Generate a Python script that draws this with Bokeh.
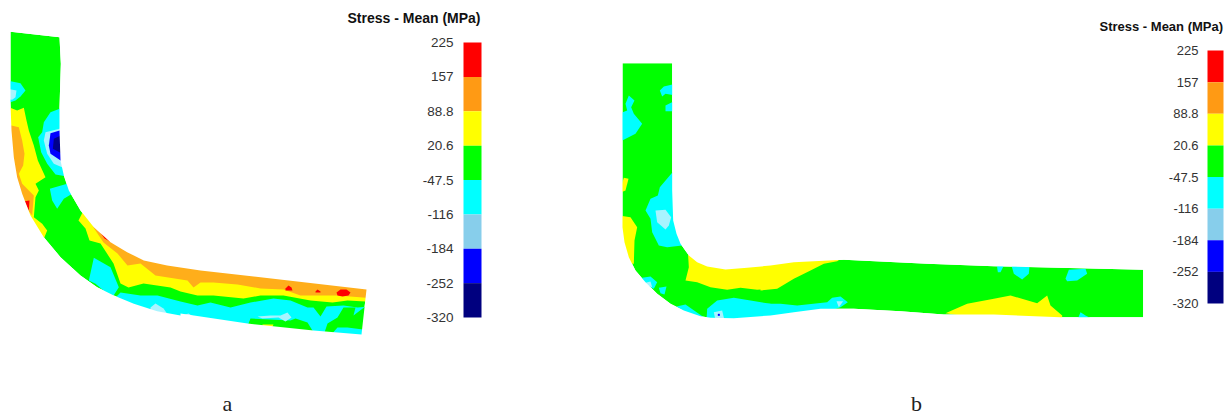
from bokeh.plotting import figure
from bokeh.models import Range1d
from bokeh.embed import file_html
from bokeh.resources import INLINE
from bokeh.core.properties import value

# ---------- legend data ----------
level_labels = ["225", "157", "88.8", "20.6", "-47.5", "-116", "-184", "-252", "-320"]
legend_colors = ["#ff0000", "#ff9a14", "#ffff00", "#00ff00", "#00ffff", "#87ceeb", "#0000ff", "#00007f"]
title_text = "Stress - Mean (MPa)"
panel_labels = ["a", "b"]

RED, ORANGE, YELLOW, GREEN = "#ff0000", "#ffae1a", "#ffff00", "#00ff00"
CYAN, PALE, BLUE, NAVY = "#00ffff", "#a8f4ff", "#0000ff", "#00008b"

# ---------- contour outlines as (x, y) ----------
def sc(pts, ox, oy):
    return [(ox + x / 3, oy + y / 3) for x, y in pts]

outline_a = sc([(30,34),(177,50),(181,130),(177,262),(177,330),(180,420),(190,465),(205,510),(240,570),(280,620),
                (330,665),(380,695),(430,720),(500,735),(600,750)], 0, 20) + [(366,289),(361,334),(313,330),(247,323),(180,313)] + \
            sc([(540,885),(470,872),(400,850),(340,825),(290,800),(240,765),(180,710),(130,650),(90,585),(65,520),
                (50,470),(40,410),(33,330),(30,250)], 0, 20)
outline_b = sc([(66,38),(215,38),(215,420),(218,510),(228,550),(240,580),(265,615),(290,635),(320,648),(375,657),
                (440,652),(510,645)], 600, 50) + \
            sc([(100,65),(250,58),(500,70),(700,77),(1148,88),(1148,230),(900,230),(700,222),(550,222),(420,212),
                (280,205),(180,205),(100,215)], 760, 240) + \
            sc([(510,795),(400,803),(330,802),(300,797),(250,780),(210,760),(170,730),(135,695),(105,660),(85,620),
                (72,575),(66,530)], 600, 50)

# panel a, left part (zoom 0,20)
a_left = [
 (CYAN, [(20,180),(60,188),(75,210),(60,228),(45,240),(20,248)]),
 (PALE, [(20,205),(48,210),(45,230),(35,238),(20,236)]),
 (YELLOW, [(20,258),(50,270),(70,262),(78,300),(85,330),(100,375),(112,420),(135,470),(105,490),(115,510),
           (105,530),(100,590),(125,610),(140,630),(130,655),(100,620),(40,530),(20,400)]),
 (ORANGE, [(20,312),(55,320),(65,360),(72,400),(68,435),(55,460),(65,490),(100,525),(95,585),(60,540),(20,450)]),
 (RED, [(72,542),(87,540),(85,570)]),
 (CYAN, [(195,258),(150,275),(130,305),(125,335),(113,350),(122,395),(140,430),(165,462),(195,467),(195,262)]),
 (PALE, [(195,320),(135,335),(130,360),(140,400),(160,430),(195,445)]),
 (BLUE, [(195,325),(150,338),(145,375),(150,400),(195,430)]),
 (NAVY, [(195,338),(160,355),(157,385),(195,405)]),
 (CYAN, [(148,505),(200,490),(215,520),(190,535),(170,565),(155,540)]),
 (CYAN, [(265,780),(280,712),(330,740),(355,800),(335,832),(285,790)]),
]
# panel a, long bands
band_a = [
 (YELLOW, [(88,205),(110,225),(140,245),(200,262),(375,285),(375,301),(365,301),(347,300),(332,302),(310,300),
           (283,295),(260,295),(243,298),(213,295),(197,295),(180,291),(170,287),(143,283),(128,287),(120,283),
           (113,263),(100,243),(89,240),(85,228),(78,220),(82,212)]),
 (ORANGE, [(93,224),(117,238),(133,250),(157,258),(200,265),(375,285),(375,298),(337,295),(300,295),(283,289),
           (260,288),(237,284),(213,282),(200,282),(193,287),(187,280),(155,275),(140,263),(127,265),(117,253),
           (103,242),(93,227)]),
 (RED, [(97,228),(112,238),(113,243),(104,238)]),
 (RED, [(285,288),(288,285),(291,287),(292,290),(285,290)]),
 (RED, [(315,291),(317,289),(320,291),(320,292),(315,292)]),
 (RED, [(336,292),(340,289),(346,289),(350,292),(348,295),(342,296),(337,295)]),
 (CYAN, [(115,297),(120,292),(140,295),(157,295),(180,301),(197,305),(210,302),(230,307),(250,302),(273,298),
         (290,300),(307,307),(313,307),(320,316),(326,306),(343,305),(357,307),(370,306),(370,340),(300,335),
         (180,322),(110,305)]),
 (PALE, [(150,307),(155,303),(163,308),(170,318),(150,312)]),
 (PALE, [(176,317),(188,313),(196,318),(190,322)]),
 (GREEN, [(323,335),(327,323),(337,317),(343,307),(355,307),(353,315),(370,302),(370,330),(347,327),(337,327),(330,335)]),
 (GREEN, [(246,328),(250,318),(290,320),(295,318),(307,322),(315,335)]),
 (YELLOW, [(262,324),(273,324),(270,330),(262,330)]),
 (PALE, [(257,316),(270,315),(280,315),(287,312),(291,317),(285,321),(278,317),(262,318)]),
]
# panel b, bend (zoom 600,50)
b_left = [
 (CYAN, [(85,135),(102,150),(92,170),(100,190),(125,220),(105,250),(55,275),(55,190),(80,180),(75,160)]),
 (CYAN, [(178,120),(190,108),(225,100),(225,135),(195,130),(185,138)]),
 (CYAN, [(195,165),(225,150),(225,182),(195,182)]),
 (CYAN, [(225,355),(178,410),(172,435),(150,445),(135,480),(150,505),(155,545),(175,585),(200,590),(245,585),(225,500)]),
 (PALE, [(165,480),(195,478),(212,500),(205,525),(195,537),(170,515)]),
 (YELLOW, [(55,495),(90,500),(110,530),(102,570),(100,640),(55,640)]),
 (YELLOW, [(70,382),(84,385),(75,420),(55,428)]),
 (CYAN, [(125,682),(150,678),(170,695),(160,715),(125,700)]),
 (PALE, [(135,697),(150,693),(155,710),(140,705)]),
 (CYAN, [(175,712),(198,708),(192,732),(180,728)]),
 (CYAN, [(228,768),(255,762),(310,800),(280,800)]),
 (CYAN, [(318,810),(320,775),(350,750),(400,742),(450,750),(510,760),(530,810)]),
 (PALE, [(340,785),(365,780),(372,810),(345,810)]),
 (BLUE, [(352,790),(358,790),(358,796),(352,796)]),
 (YELLOW, [(262,600),(510,630),(510,715),(470,718),(420,712),(380,718),(330,710),(290,695),(255,690),(265,650)]),
]
# panel b, straight run (zoom 760,240)
b_right = [
 (YELLOW, [(0,50),(255,45),(230,62),(190,70),(150,90),(100,115),(50,145),(0,150)]),
 (CYAN, [(0,190),(60,190),(110,195),(200,185),(215,172),(240,168),(262,185),(240,200),(210,210),(180,215),(0,240)]),
 (PALE, [(228,182),(248,182),(235,200)]),
 (YELLOW, [(555,218),(620,190),(700,175),(750,165),(830,188),(860,165),(870,195),(905,225),(905,240),(700,240)]),
 (CYAN, [(708,65),(735,65),(720,95),(712,95)]),
 (CYAN, [(750,65),(808,65),(805,100),(785,117),(760,100)]),
 (CYAN, [(915,115),(925,88),(975,85),(980,100),(950,120),(920,122)]),
 (CYAN, [(950,240),(960,215),(975,225),(1005,240)]),
]

panel_a_regions = [(c, sc(p, 0, 20)) for c, p in a_left] + band_a
panel_b_regions = [(c, sc(p, 600, 50)) for c, p in b_left] + [(c, sc(p, 760, 240)) for c, p in b_right]

# ---------- figure: data units are page pixels ----------
W, H = 1232, 416
p = figure(width=W, height=H, x_range=Range1d(0, W), y_range=Range1d(H, 0),
           output_backend="svg", toolbar_location=None, min_border=0, outline_line_color=None,
           background_fill_color="white", border_fill_color="white")
p.xaxis.visible = False
p.yaxis.visible = False
p.grid.visible = False

def panel(outline, regions, frame):
    xs, ys = zip(*outline)
    p.patch(list(xs), list(ys), fill_color=GREEN, line_color=None)
    for color, pts in regions:
        px, py = zip(*pts)
        p.patch(list(px), list(py), fill_color=color, line_color=None)
    x0, y0, x1, y1 = frame
    p.multi_polygons(xs=[[[[x0, x1, x1, x0], list(xs)]]], ys=[[[[y0, y0, y1, y1], list(ys)]]],
                     fill_color="white", line_color=None)

panel(outline_a, panel_a_regions, (0, 8, 405, 345))
panel(outline_b, panel_b_regions, (600, 50, 1150, 330))

def legend(name, y_top, y_bottom, x0, x1, label_right, label_px, title_xy, title_px):
    step = (y_bottom - y_top) / (len(level_labels) - 1)
    p.extra_y_ranges[name] = Range1d((H - y_top) / step, (0 - y_top) / step)
    n = len(legend_colors)
    p.quad(left=x0, right=x1, top=list(range(n)), bottom=[i + 1 for i in range(n)],
           fill_color=legend_colors, line_color=None, y_range_name=name)
    p.text(x=[label_right] * len(level_labels), y=list(range(len(level_labels))), text=level_labels,
           text_font=value("Liberation Sans"), text_font_size=label_px, text_color="#333333",
           text_align="right", text_baseline="middle", y_range_name=name)
    p.text(x=[title_xy[0]], y=[title_xy[1]], text=[title_text], text_font=value("Liberation Sans"),
           text_font_style="bold", text_font_size=title_px, text_color="#111111",
           text_align="left", text_baseline="middle")

legend("cb_a", 42, 317, 463, 481, 453, "13.5px", (347, 17), "14px")
legend("cb_b", 50, 303, 1207, 1223, 1198, "13px", (1099, 26), "13px")

p.text(x=[227, 916], y=[403, 403], text=panel_labels, text_font=value("Liberation Serif"),
       text_font_size="22px", text_color="#222222", text_align="center", text_baseline="middle")

open("out.html", "w").write(file_html(p, INLINE))
